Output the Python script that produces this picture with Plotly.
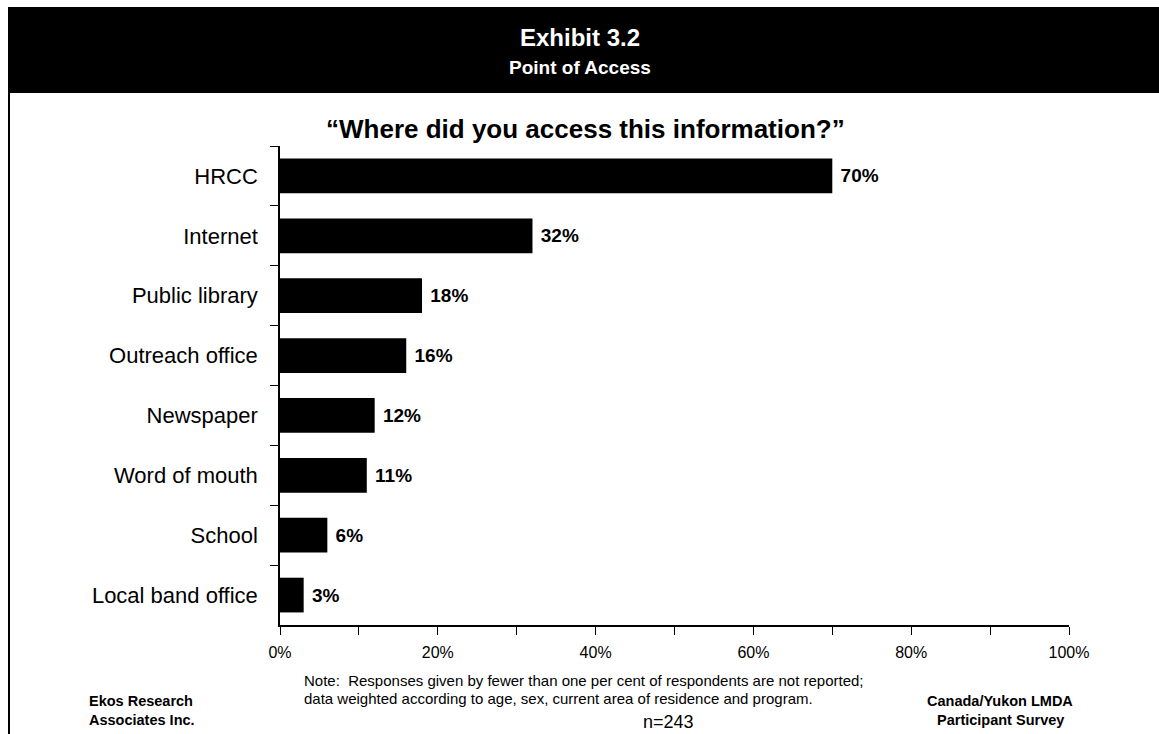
import plotly.graph_objects as go

# Survey responses: point of access
categories = ["HRCC", "Internet", "Public library", "Outreach office",
              "Newspaper", "Word of mouth", "School", "Local band office"]
values = [70, 32, 18, 16, 12, 11, 6, 3]
x_tickvals = [0, 20, 40, 60, 80, 100]
x_ticktext = ["0%", "20%", "40%", "60%", "80%", "100%"]

FONT = "Arial, Liberation Sans, sans-serif"
W, H = 1159, 734
L, R, T, B = 280, 90, 146, 109
PW, PH = W - L - R, H - T - B


def px(x):
    return (x - L) / PW


def py(y):
    return (H - B - y) / PH


fig = go.Figure(go.Bar(
    x=values,
    y=categories,
    orientation="h",
    marker=dict(color="black", line=dict(width=0)),
    width=0.58,
    text=[f"&nbsp;<b>{v}%</b>" for v in values],
    textposition="outside",
    textfont=dict(family=FONT, size=19, color="black"),
    cliponaxis=False,
))

fig.update_layout(
    width=W, height=H,
    margin=dict(l=L, r=R, t=T, b=B),
    paper_bgcolor="white",
    plot_bgcolor="white",
    showlegend=False,
    font=dict(family=FONT, color="black"),
    xaxis=dict(
        range=[0, 100],
        tickvals=x_tickvals,
        ticktext=x_ticktext,
        ticks="outside", ticklen=8, tickwidth=1, tickcolor="black",
        minor=dict(dtick=10, ticks="outside", ticklen=8, tickwidth=1, tickcolor="black"),
        showgrid=False, zeroline=False,
        showline=True, linecolor="black", linewidth=1.5,
        tickfont=dict(size=16, family=FONT),
        ticklabelstandoff=4,
        fixedrange=True,
    ),
    yaxis=dict(
        categoryorder="array",
        categoryarray=categories,
        autorange="reversed",
        tickson="boundaries",
        ticks="outside", ticklen=8, tickwidth=1, tickcolor="black",
        showgrid=False, zeroline=False,
        showline=True, linecolor="black", linewidth=1.5,
        tickfont=dict(size=22, family=FONT),
        ticklabelstandoff=16,
        fixedrange=True,
    ),
)

# Header band and left frame line
fig.add_shape(type="rect", xref="paper", yref="paper",
              x0=px(8), x1=px(1159), y0=py(93), y1=py(7),
              fillcolor="black", line=dict(width=0), layer="below")
fig.add_shape(type="line", xref="paper", yref="paper",
              x0=px(9), x1=px(9), y0=py(93), y1=py(734),
              line=dict(color="black", width=2))


def note(x, y, text, size, bold=False, color="black", xanchor="center"):
    fig.add_annotation(
        x=px(x), y=py(y), xref="paper", yref="paper",
        text=f"<b>{text}</b>" if bold else text,
        showarrow=False, xanchor=xanchor, yanchor="middle",
        align="left" if xanchor == "left" else "center",
        font=dict(family=FONT, size=size, color=color),
    )


note(580, 37, "Exhibit 3.2", 24, bold=True, color="white")
note(580, 68, "Point of Access", 19, bold=True, color="white")
note(585, 129, "“Where did you access this information?”", 26, bold=True)

note(302, 680, "Note:  Responses given by fewer than one per cent of respondents are not reported;", 15, xanchor="left")
note(302, 698, "data weighted according to age, sex, current area of residence and program.", 15, xanchor="left")
note(668, 722, "n=243", 18)
note(87, 701, "Ekos Research", 14.5, bold=True, xanchor="left")
note(87, 720, "Associates Inc.", 14.5, bold=True, xanchor="left")
note(1000, 701, "Canada/Yukon LMDA", 14.5, bold=True)
note(1000, 720, "Participant Survey", 14.5, bold=True)

fig.write_html("out.html")
